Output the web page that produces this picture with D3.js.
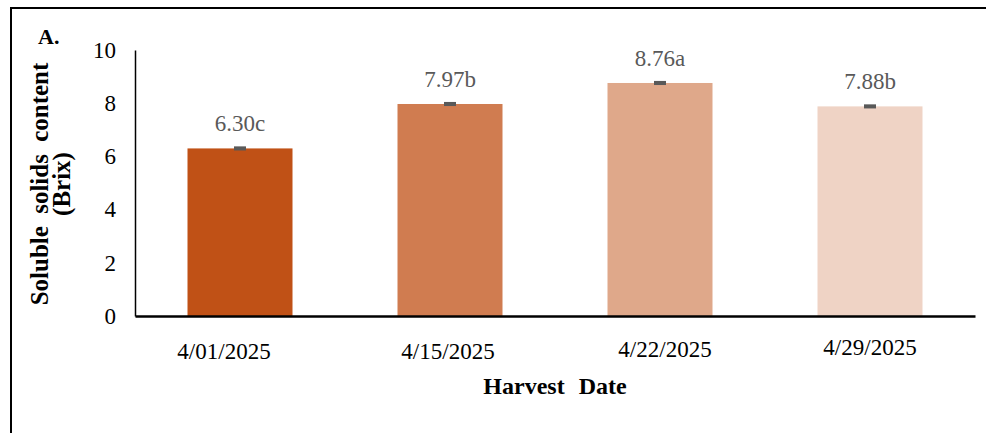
<!DOCTYPE html>
<html>
<head>
<meta charset="utf-8">
<script src="https://cdn.jsdelivr.net/npm/d3@7/dist/d3.min.js"></script>
<style>
  html, body { margin: 0; padding: 0; background: #fff; }
  svg { display: block; }
  svg text { font-family: "Liberation Serif", "Times New Roman", Times, serif !important; }
</style>
</head>
<body>
<svg id="chart" width="986" height="433"></svg>
<script>
// Harvest dates and soluble solids content (°Brix)
const categories = ["4/01/2025", "4/15/2025", "4/22/2025", "4/29/2025"];
const values = [6.30, 7.97, 8.76, 7.88];
const errors = [0.03, 0.03, 0.03, 0.03];
const letters = ["c", "b", "a", "b"];
const colors = ["#C05116", "#D07C50", "#DFA88A", "#EFD3C5"];
const yTicks = [0, 2, 4, 6, 8, 10];

const SERIF = "'Liberation Serif', 'Times New Roman', Times, serif";
const svg = d3.select("#chart");

// Outer frame (runs off the right and bottom edges)
svg.append("path")
  .attr("d", "M11,440 L11,8 L990,8")
  .attr("fill", "none")
  .attr("stroke", "#000")
  .attr("stroke-width", 2);

const x = d3.scaleBand()
  .domain(categories)
  .range([135, 975])
  .paddingInner(0.5)
  .paddingOuter(0.25);

const y = d3.scaleLinear()
  .domain([0, 10])
  .range([316, 50]);

// Bars
svg.append("g").selectAll("rect")
  .data(categories)
  .join("rect")
  .attr("x", d => x(d))
  .attr("y", (d, i) => y(values[i]))
  .attr("width", x.bandwidth())
  .attr("height", (d, i) => y(0) - y(values[i]))
  .attr("fill", (d, i) => colors[i]);

// Error bars
const eb = svg.append("g").attr("stroke", "#595959").attr("stroke-width", 2.5);
categories.forEach((c, i) => {
  const cx = x(c) + x.bandwidth() / 2;
  const top = y(values[i] + errors[i]);
  const bot = y(values[i] - errors[i]);
  eb.append("line").attr("x1", cx).attr("x2", cx).attr("y1", top).attr("y2", bot);
  eb.append("line").attr("x1", cx - 6).attr("x2", cx + 6).attr("y1", top).attr("y2", top);
  eb.append("line").attr("x1", cx - 6).attr("x2", cx + 6).attr("y1", bot).attr("y2", bot);
});

// Value labels with significance letters
svg.append("g").selectAll("text")
  .data(categories)
  .join("text")
  .attr("x", d => x(d) + x.bandwidth() / 2)
  .attr("y", (d, i) => y(values[i]) - 17)
  .attr("text-anchor", "middle")
  .style("font-family", SERIF)
  .style("font-size", "23px")
  .attr("fill", "#595959")
  .text((d, i) => values[i].toFixed(2) + letters[i]);

// Y axis
const yAxis = svg.append("g")
  .attr("transform", "translate(135,0)")
  .call(d3.axisLeft(y).tickValues(yTicks).tickSize(0).tickPadding(19).tickFormat(d3.format("d")));
yAxis.select(".domain").attr("stroke", "#000").attr("stroke-width", 1.5);
yAxis.selectAll("text")
  .style("font-family", SERIF)
  .style("font-size", "23px")
  .attr("fill", "#000");

// X axis (date labels sit as hand-placed text boxes, slightly nudged)
const labelNudgeX = [-16, -2, 5, 0];
const labelNudgeY = [0, 0, -2, -4];
const xAxis = svg.append("g")
  .attr("transform", "translate(0,316)")
  .call(d3.axisBottom(x).tickSize(0).tickPadding(27));
xAxis.select(".domain").attr("stroke", "#000").attr("stroke-width", 2.5);
xAxis.selectAll("text")
  .style("font-family", SERIF)
  .style("font-size", "23px")
  .attr("fill", "#000")
  .attr("transform", (d, i) => `translate(${labelNudgeX[i]},${labelNudgeY[i]})`);

// Axis titles
svg.append("text")
  .attr("x", 555)
  .attr("y", 394)
  .attr("text-anchor", "middle")
  .style("font-family", SERIF)
  .style("font-size", "24px")
  .style("font-weight", "bold")
  .attr("word-spacing", 8)
  .text("Harvest Date");

const yt = svg.append("text")
  .attr("transform", "translate(48,184) rotate(-90)")
  .attr("text-anchor", "middle")
  .style("font-family", SERIF)
  .style("font-size", "25px")
  .style("font-weight", "bold")
  .attr("word-spacing", 6);
yt.append("tspan").attr("x", 0).attr("dy", 0).text("Soluble solids content");
yt.append("tspan").attr("x", 0).attr("dy", 22).text("(Brix)");

// Panel label
svg.append("text")
  .attr("x", 38)
  .attr("y", 44)
  .style("font-family", SERIF)
  .style("font-size", "22px")
  .style("font-weight", "bold")
  .text("A.");
</script>
</body>
</html>
